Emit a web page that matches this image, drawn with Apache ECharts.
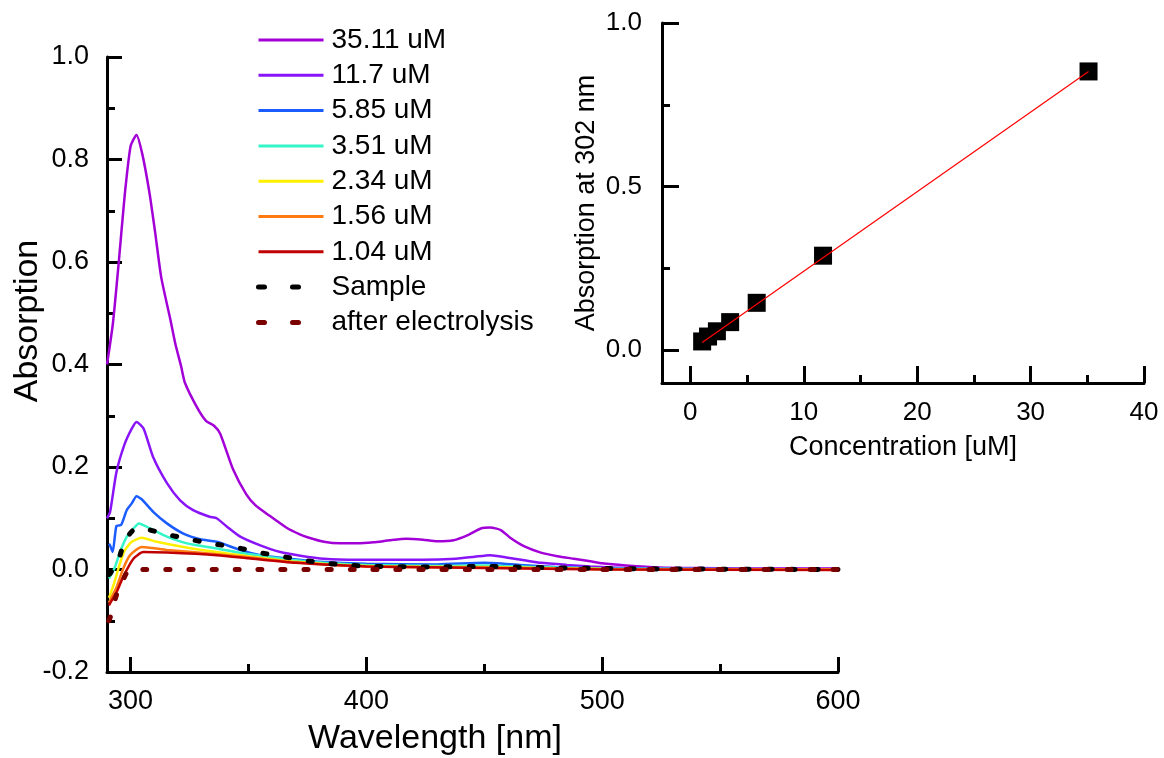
<!DOCTYPE html>
<html><head><meta charset="utf-8">
<script src="https://cdn.jsdelivr.net/npm/echarts@6/dist/echarts.min.js"></script>
<style>html,body{margin:0;padding:0;background:#fff}#c{width:1164px;height:758px}</style>
</head><body><div id="c"></div>
<script>
// ---------- data ----------
const seriesNames = ['35.11 uM','11.7 uM','5.85 uM','3.51 uM','2.34 uM','1.56 uM','1.04 uM','Sample','after electrolysis'];
const seriesColors = ['#a300d8','#8a14f8','#1a5cff','#33f5c8','#fff000','#ff7a10','#c00000','#000000','#7a0000'];

const s3511 = [[290,0.40],[292.5,0.48],[295,0.60],[297.5,0.73],[300,0.826],[302.5,0.848],[305,0.81],[308,0.735],[310.5,0.655],[313,0.57],[317,0.485],[319,0.44],[321.5,0.395],[323,0.365],[328,0.318],[332,0.29],[335.5,0.28],[338,0.265],[343.5,0.195],[349,0.147],[353,0.125],[358,0.108],[366,0.082],[372,0.068],[375,0.063],[382,0.054],[389,0.051],[396,0.051],[403,0.053],[410,0.057],[417,0.060],[424,0.058],[430,0.055],[437,0.057],[443,0.067],[448.5,0.080],[452.5,0.082],[457,0.077],[461,0.062],[467,0.045],[474,0.033],[481,0.026],[488,0.021],[495,0.016],[500,0.012],[510,0.008],[524,0.004],[540,0.003],[560,0.002],[580,0.002],[600,0.002]];
const s117 = [[290,0.10],[291.3,0.112],[294,0.19],[297.5,0.245],[300.5,0.275],[302.5,0.288],[305.5,0.275],[309.5,0.22],[315.5,0.168],[321,0.135],[326.5,0.116],[333.5,0.103],[336.5,0.100],[341,0.083],[346.5,0.064],[355,0.047],[363.5,0.034],[372,0.027],[382,0.021],[396,0.019],[410,0.019],[424,0.019],[438,0.021],[446,0.025],[452.5,0.028],[460,0.023],[467,0.018],[474,0.013],[485,0.009],[495,0.006],[510,0.003],[530,0.002],[560,0.001],[600,0.001]];
const s585 = [[290.8,0.05],[291.3,0.047],[292.4,0.034],[294,0.085],[296,0.087],[298.4,0.116],[300.5,0.129],[302.5,0.143],[304.7,0.137],[309.7,0.112],[315.4,0.090],[322.4,0.070],[329.5,0.059],[336.6,0.054],[346.5,0.038],[355,0.028],[367.8,0.021],[380,0.015],[400,0.011],[430,0.010],[450,0.013],[465,0.009],[480,0.005],[500,0.002],[530,0.001],[600,0.0]];
const s351 = [[290.8,-0.018],[291.3,-0.014],[293.4,0.005],[295.5,0.034],[298.4,0.064],[301.2,0.080],[303.5,0.090],[308.3,0.080],[315.4,0.064],[323.9,0.051],[336.6,0.041],[347,0.032],[358,0.025],[370,0.018],[385,0.012],[400,0.009],[430,0.007],[450,0.008],[470,0.005],[500,0.002],[600,0.0]];
const s234 = [[290.8,-0.055],[291.3,-0.050],[293.4,-0.021],[295.5,0.012],[297.6,0.038],[300.5,0.054],[304.7,0.062],[311.1,0.054],[322.4,0.044],[336.6,0.034],[350,0.026],[370,0.015],[400,0.007],[450,0.005],[500,0.001],[600,0.0]];
const s156 = [[290.8,-0.065],[291.3,-0.060],[294.1,-0.034],[296.9,0.002],[299.8,0.028],[304.7,0.044],[315.4,0.038],[336.6,0.030],[350,0.024],[370,0.014],[400,0.006],[450,0.004],[500,0.001],[600,0.0]];
const s104 = [[290.8,-0.07],[291.3,-0.066],[294.1,-0.044],[296.9,-0.014],[301.2,0.021],[305.4,0.034],[315.4,0.033],[336.6,0.028],[350,0.022],[370,0.013],[400,0.006],[450,0.003],[500,0.0],[600,-0.001]];
const sSample = [[290.8,-0.01],[291.3,-0.008],[294.8,0.018],[297.6,0.057],[301.2,0.077],[304.7,0.080],[313.9,0.070],[323.9,0.060],[333.8,0.051],[343.7,0.044],[353.6,0.034],[363.5,0.026],[373.4,0.018],[383.4,0.012],[393.3,0.008],[403.2,0.006],[430,0.005],[450,0.006],[470,0.004],[500,0.002],[530,0.001],[600,0.0]];
const sAfter = [[290.8,-0.10],[292,-0.085],[294,-0.05],[296.9,-0.02],[298.5,-0.005],[300,0.0],[350,0.0],[400,0.0],[450,0.0],[500,0.0],[600,0.0]];

const concentrations = [1.04, 1.56, 2.34, 3.51, 5.85, 11.7, 35.11];
const abs302 = [0.027, 0.042, 0.058, 0.086, 0.145, 0.289, 0.852];
const fitLine = [[1.04, 0.024], [35.11, 0.852]];

// ---------- chart ----------
const FONT = '"Liberation Sans", Arial, sans-serif';
const spectra = [s3511, s117, s585, s351, s234, s156, s104, sSample, sAfter];
const chart = echarts.init(document.getElementById('c'));

const axisCommon = (extra) => Object.assign({
  splitLine: { show: false },
  axisLine: { show: true, onZero: false, lineStyle: { color: '#000', width: 3 } },
  axisTick: { show: true, inside: true, length: 15, lineStyle: { color: '#000', width: 3 } },
  minorTick: { show: true, splitNumber: 2, length: 8, lineStyle: { color: '#000', width: 3 } },
  minorSplitLine: { show: false }
}, extra);

const dottedStyle = (c) => ({ color: c, width: 5, type: [4, 19], cap: 'round' });

const series = spectra.map((d, i) => {
  const dotted = i >= 7;
  return {
    name: seriesNames[i], type: 'line', xAxisIndex: 0, yAxisIndex: 0,
    data: d, symbol: 'none', smooth: 0.2, z: 2 + i,
    lineStyle: dotted ? dottedStyle(seriesColors[i]) : { color: seriesColors[i], width: 2.5 },
    itemStyle: { color: seriesColors[i] }
  };
});
series.push({
  name: 'fit', type: 'line', xAxisIndex: 1, yAxisIndex: 1, data: fitLine,
  symbol: 'none', lineStyle: { color: '#ff0000', width: 1.2 }, z: 20
});
series.push({
  name: 'points', type: 'scatter', xAxisIndex: 1, yAxisIndex: 1,
  data: concentrations.map((c, i) => [c, abs302[i]]),
  symbol: 'rect', symbolSize: 18, itemStyle: { color: '#000', opacity: 1 }, z: 10
});

const legendData = seriesNames.map((n, i) => ({
  name: n,
  itemStyle: { opacity: 0, borderWidth: 0 },
  lineStyle: i >= 7 ? { color: seriesColors[i], width: 5, type: [6, 28], cap: 'round' }
                    : { color: seriesColors[i], width: 3, type: 'solid' }
}));

chart.setOption({
  animation: false,
  backgroundColor: '#ffffff',
  textStyle: { fontFamily: FONT },
  grid: [
    { left: 107, right: 326, top: 57, bottom: 86 },
    { left: 662, right: 20, top: 23, bottom: 375 }
  ],
  legend: {
    data: legendData, orient: 'vertical', left: 256, top: 26, padding: 0,
    itemWidth: 65, itemHeight: 1, itemGap: 7.3,
    itemStyle: { opacity: 0, borderWidth: 0 },
    textStyle: { fontSize: 28, lineHeight: 27, color: '#000', fontFamily: FONT, padding: [0, 0, 0, 3] },
    selectedMode: false
  },
  xAxis: [
    axisCommon({ type: 'value', gridIndex: 0, min: 290, max: 600, minInterval: 100, maxInterval: 100,
      axisLabel: { fontSize: 27, color: '#000', margin: 16, fontFamily: FONT, showMinLabel: false } }),
    axisCommon({ type: 'value', gridIndex: 1, min: -2.5, max: 40, minInterval: 10, maxInterval: 10,
      axisTick: { show: true, inside: true, length: 17, lineStyle: { color: '#000', width: 3 } },
      axisLabel: { fontSize: 26, color: '#000', margin: 17, fontFamily: FONT, showMinLabel: false } })
  ],
  yAxis: [
    axisCommon({ type: 'value', gridIndex: 0, min: -0.2, max: 1.0, interval: 0.2,
      axisLabel: { fontSize: 27, color: '#000', margin: 18, fontFamily: FONT, formatter: v => v.toFixed(1) } }),
    axisCommon({ type: 'value', gridIndex: 1, min: -0.1, max: 1.0, minInterval: 0.5, maxInterval: 0.5,
      axisTick: { show: true, inside: true, length: 17, lineStyle: { color: '#000', width: 3 } },
      axisLabel: { fontSize: 26, color: '#000', margin: 20, fontFamily: FONT, showMinLabel: false, formatter: v => v.toFixed(1) } })
  ],
  graphic: [
    { type: 'text', x: 28, y: 321, rotation: Math.PI / 2,
      style: { text: 'Absorption', font: '34px ' + FONT, fill: '#000', align: 'center', verticalAlign: 'middle' } },
    { type: 'text', x: 435, y: 739,
      style: { text: 'Wavelength [nm]', font: '34px ' + FONT, fill: '#000', align: 'center', verticalAlign: 'middle' } },
    { type: 'text', x: 587, y: 203, rotation: Math.PI / 2,
      style: { text: 'Absorption at 302 nm', font: '27px ' + FONT, fill: '#000', align: 'center', verticalAlign: 'middle' } },
    { type: 'text', x: 903, y: 448,
      style: { text: 'Concentration [uM]', font: '27px ' + FONT, fill: '#000', align: 'center', verticalAlign: 'middle' } }
  ],
  series: series
});
</script>
</body></html>
